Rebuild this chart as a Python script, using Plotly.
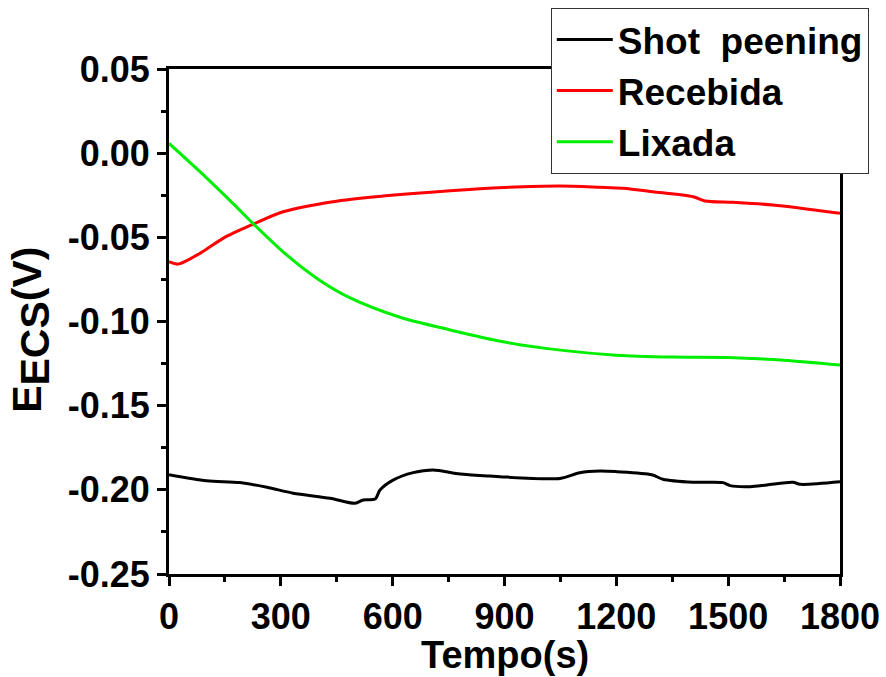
import plotly.graph_objects as go

# Open-circuit potential vs time for three surface conditions
shot_t = [0, 101, 190, 263, 333, 432, 499, 521, 553, 566, 601, 655, 708, 781, 861,
          888, 1049, 1102, 1156, 1201, 1295, 1325, 1406, 1486, 1505, 1559, 1604,
          1674, 1693, 1800]
shot_e = [-0.1910, -0.1946, -0.1957, -0.1985, -0.2020, -0.2050, -0.2080, -0.2060,
          -0.2055, -0.2001, -0.1942, -0.1898, -0.1882, -0.1906, -0.1918,
          -0.1922, -0.1932, -0.1898, -0.1888, -0.1892, -0.1910, -0.1937, -0.1955,
          -0.1957, -0.1975, -0.1981, -0.1971, -0.1955, -0.1967, -0.1952]

rec_t = [0, 24, 83, 145, 225, 306, 440, 574, 754, 900, 1049, 1156, 1218, 1298,
         1406, 1438, 1513, 1620, 1800]
rec_e = [-0.0645, -0.0659, -0.0595, -0.0506, -0.0423, -0.0348, -0.0288, -0.0255,
         -0.0223, -0.0204, -0.0195, -0.0203, -0.0209, -0.0229, -0.0259, -0.0284,
         -0.0292, -0.0308, -0.0357]

lix_t = [0, 83, 172, 225, 306, 397, 486, 620, 754, 900, 1050, 1200, 1350, 1500,
         1650, 1800]
lix_e = [0.0058, -0.0110, -0.0300, -0.0417, -0.0586, -0.0744, -0.0860, -0.0975,
         -0.1050, -0.1122, -0.1170, -0.1200, -0.1211, -0.1214, -0.1230, -0.1259]

x_ticks = [0, 300, 600, 900, 1200, 1500, 1800]
y_ticks = [0.05, 0.00, -0.05, -0.10, -0.15, -0.20, -0.25]

x_title = "Tempo(s)"
y_title = "E<sub><span style='font-size:41px'>ECS</span></sub>(V)"

FONT = "Liberation Sans, Arial, sans-serif"

fig = go.Figure()
series = [
    ("Shot\u00a0 peening", shot_t, shot_e, "#000000"),
    ("Recebida", rec_t, rec_e, "#ff0000"),
    ("Lixada", lix_t, lix_e, "#00ee00"),
]
for name, t, e, color in series:
    fig.add_trace(go.Scatter(
        x=t, y=e, name=name, mode="lines",
        line=dict(color=color, width=3, shape="spline", smoothing=0.8),
    ))

axis_common = dict(
    showline=True, linecolor="black", linewidth=3, mirror=True,
    ticks="outside", ticklen=9, tickwidth=3, tickcolor="black",
    showgrid=False, zeroline=False,
    tickfont=dict(family=FONT, size=36, color="black", weight="bold"),
)

fig.update_xaxes(
    range=[0, 1800], tickvals=x_ticks, ticktext=[str(v) for v in x_ticks],
    minor=dict(ticks="outside", ticklen=5, tickwidth=3, tickcolor="black", dtick=150, tick0=0),
    **axis_common,
)
fig.update_yaxes(
    range=[-0.25, 0.05], tickvals=y_ticks, ticktext=[f"{v:.2f}" for v in y_ticks],
    minor=dict(ticks="outside", ticklen=5, tickwidth=3, tickcolor="black", dtick=0.025, tick0=0),
    **axis_common,
)

title_font = dict(family=FONT, size=38, color="black", weight="bold")
fig.add_annotation(text=x_title, xref="paper", yref="paper", x=0.5, y=-0.204,
                   xanchor="center", yanchor="bottom", showarrow=False, font=title_font,
                   borderpad=0)
fig.add_annotation(text=y_title, xref="paper", yref="paper", x=-0.206, y=0.483,
                   xanchor="center", yanchor="middle", textangle=-90, showarrow=False,
                   font=dict(title_font, size=41))

fig.update_layout(
    width=886, height=677,
    margin=dict(l=169, r=46, t=69, b=103, autoexpand=False),
    plot_bgcolor="white", paper_bgcolor="white",
    showlegend=True,
    legend=dict(
        x=0.569, y=1.121, xanchor="left", yanchor="top",
        bgcolor="white", bordercolor="#333333", borderwidth=1,
        font=dict(family=FONT, size=37, color="black", weight="bold"),
        tracegroupgap=0, itemwidth=56,
    ),
)

fig.write_html("out.html")
